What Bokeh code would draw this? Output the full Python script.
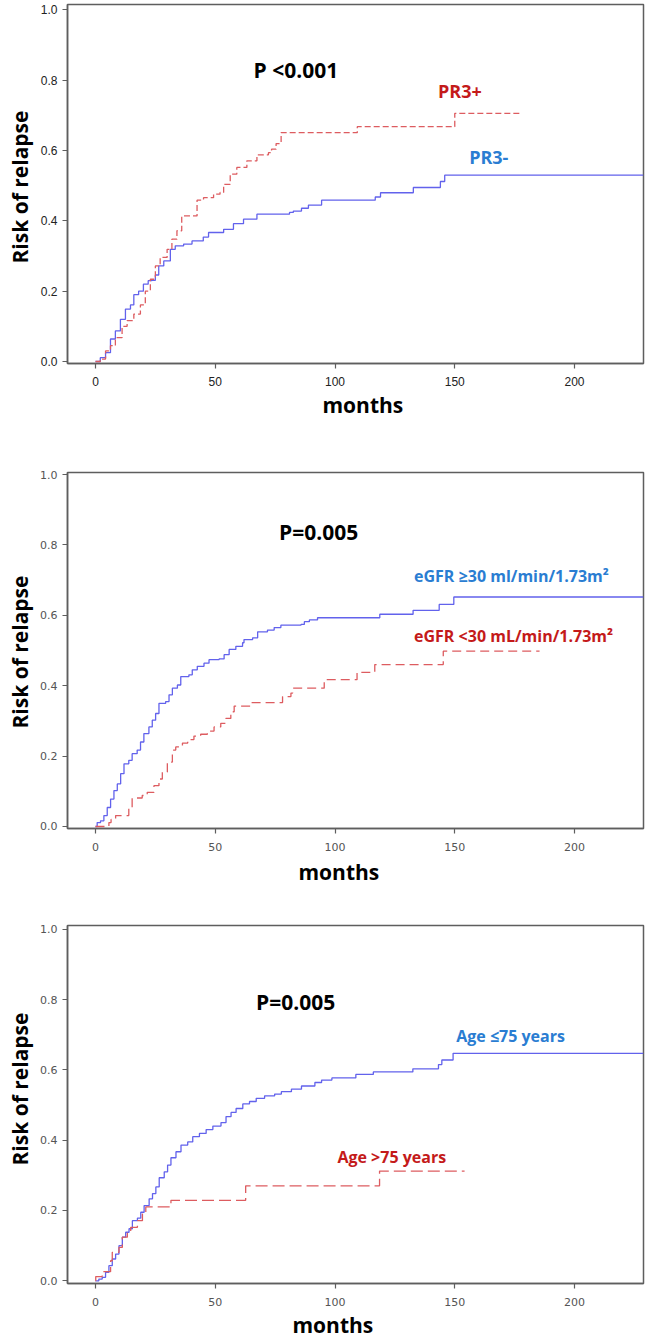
from bokeh.plotting import figure
from bokeh.layouts import column
from bokeh.models import Label, FixedTicker, Range1d, NumeralTickFormatter, Title
from bokeh.embed import file_html
from bokeh.resources import INLINE

# ---------------- data (months, cumulative risk of relapse) ----------------
x_ticks = [0, 50, 100, 150, 200]
y_ticks = [0.0, 0.2, 0.4, 0.6, 0.8, 1.0]

# Panel 1: PR3
pr3neg_t = [0, 2, 4.2, 6.25, 8.3, 10.4, 12.5, 14.6, 16, 18, 20, 22, 23.6, 25, 26.4, 28.5, 31.25,
            33.3, 36.8, 40.3, 45, 47.2, 53.5, 57.6, 61.8, 67.4, 81, 82.6, 86, 88.9, 94.4, 116.8,
            119, 132.7, 144, 145.8, 228.8]
pr3neg_y = [0, 0.011, 0.025, 0.064, 0.087, 0.12, 0.149, 0.161, 0.19, 0.2, 0.22, 0.23, 0.231,
            0.246, 0.272, 0.286, 0.319, 0.329, 0.334, 0.343, 0.354, 0.367, 0.376, 0.392, 0.405,
            0.419, 0.424, 0.428, 0.436, 0.445, 0.459, 0.468, 0.48, 0.495, 0.512, 0.53, 0.53]
pr3pos_t = [0, 2, 4.2, 6.25, 8.3, 11.1, 13.2, 16, 18.75, 20.8, 22.9, 25, 27, 29.9, 31.9, 34, 36,
            42.4, 45.1, 49.3, 52, 53.5, 56.25, 59, 63.2, 67.4, 72.2, 73.5, 75.4, 77.5, 109.3, 150,
            177.3]
pr3pos_y = [0, 0.007, 0.03, 0.045, 0.068, 0.1, 0.116, 0.135, 0.161, 0.2, 0.234, 0.272, 0.296,
            0.319, 0.348, 0.372, 0.414, 0.459, 0.466, 0.476, 0.481, 0.504, 0.533, 0.552, 0.571,
            0.588, 0.594, 0.604, 0.62, 0.651, 0.668, 0.706, 0.706]

# Panel 2: eGFR
egfr_hi_t = [0, 0.7, 2.1, 3.5, 4.9, 6.3, 7.7, 9.1, 10.5, 11.9, 13.9, 15.3, 17.4, 18.8, 20.2, 22.3,
             23.7, 25.1, 26.5, 29.3, 30.7, 32.1, 34.2, 35.6, 39, 40.4, 42.5, 45.3, 47.4, 51.6,
             53.7, 55.8, 58.6, 61.4, 62, 65.6, 67.7, 71.8, 74.6, 77.4, 85.8, 87.2, 89.3, 92.7,
             118.7, 132.6, 143.5, 149.6, 228.8]
egfr_hi_y = [0, 0.011, 0.016, 0.031, 0.054, 0.078, 0.102, 0.121, 0.15, 0.178, 0.188, 0.207,
             0.217, 0.24, 0.264, 0.283, 0.302, 0.321, 0.35, 0.355, 0.374, 0.393, 0.402, 0.426,
             0.431, 0.445, 0.455, 0.464, 0.474, 0.476, 0.488, 0.503, 0.512, 0.522, 0.531, 0.536,
             0.553, 0.558, 0.565, 0.572, 0.574, 0.582, 0.587, 0.593, 0.603, 0.614, 0.631, 0.652,
             0.652]
egfr_lo_t = [0, 5.6, 6.5, 8.4, 13.9, 15.3, 19.5, 21.6, 24.4, 26.5, 27.9, 30, 32.1, 33.5, 36.3,
             38.5, 41.1, 43.9, 46.7, 49.5, 52.3, 54.4, 56.5, 57.9, 64.9, 78.1, 81.6, 82.3, 95.5,
             109.2, 116.6, 145.2, 185.4]
egfr_lo_y = [0, 0.011, 0.02, 0.031, 0.054, 0.081, 0.088, 0.097, 0.116, 0.135, 0.155, 0.183,
             0.217, 0.226, 0.237, 0.247, 0.257, 0.262, 0.271, 0.283, 0.293, 0.307, 0.326, 0.342,
             0.352, 0.369, 0.379, 0.393, 0.417, 0.438, 0.46, 0.498, 0.498]

# Panel 3: Age
age_lo_t = [0, 1.4, 2.8, 4.2, 5.6, 7, 8.4, 9.8, 11.2, 12.6, 14, 15.4, 17.5, 18.9, 20.3, 22.4,
            23.8, 25.2, 26.6, 28.7, 30.1, 31.5, 33.6, 35.7, 38.5, 40.6, 43.4, 46.2, 49, 52.4,
            54.5, 56.6, 58.7, 61.5, 64.3, 67.1, 70.6, 74.8, 77.6, 81.8, 86, 91.6, 94.4, 98.7,
            108.7, 116, 132.5, 143.2, 144.6, 149.3, 228.8]
age_lo_y = [0, 0.005, 0.01, 0.024, 0.043, 0.062, 0.076, 0.1, 0.124, 0.138, 0.148, 0.171, 0.178,
            0.195, 0.214, 0.233, 0.248, 0.267, 0.293, 0.31, 0.329, 0.35, 0.367, 0.386, 0.395,
            0.41, 0.419, 0.43, 0.44, 0.45, 0.467, 0.479, 0.49, 0.503, 0.51, 0.519, 0.526, 0.531,
            0.538, 0.545, 0.554, 0.564, 0.571, 0.577, 0.587, 0.594, 0.603, 0.615, 0.628, 0.647,
            0.647]
age_hi_t = [0, 0.1, 2.8, 6.3, 7, 9.8, 11.2, 13.3, 14.7, 17.5, 19.6, 21, 31.5, 62.7, 118.6, 154.1]
age_hi_y = [0, 0.012, 0.026, 0.057, 0.081, 0.095, 0.124, 0.138, 0.152, 0.171, 0.19, 0.21,
            0.229, 0.27, 0.312, 0.312]

p_values = ["P <0.001", "P=0.005", "P=0.005"]
blue_labels = ["PR3-", "eGFR \u226530 ml/min/1.73m\u00b2", "Age \u226475 years"]
red_labels = ["PR3+", "eGFR <30 mL/min/1.73m\u00b2", "Age >75 years"]
x_title = "months"
y_title = "Risk of relapse"

# ---------------- styling ----------------
BLUE_LINE = "#6262ec"
RED_LINE = "#dd5c60"
BLUE_TXT = "#2a7dd2"
RED_TXT = "#c41a1a"
AXIS = "#5e5e5e"
BOLD_FONT = "Open Sans"


def make_panel(h, top, bottom, y0, y1, tick_font, tick_size, tick_color, x_standoff):
    p = figure(width=649, height=h, x_range=Range1d(-11.69, 228.8), y_range=Range1d(y0, y1),
               output_backend="svg", toolbar_location=None,
               min_border_left=67, min_border_right=6, min_border_top=top,
               min_border_bottom=bottom)
    p.grid.visible = False
    p.outline_line_color = AXIS
    p.outline_line_width = 1.5
    for ax in (p.xaxis[0], p.yaxis[0]):
        ax.axis_line_color = AXIS
        ax.axis_line_width = 1.5
        ax.major_tick_line_color = AXIS
        ax.major_tick_line_width = 1.2
        ax.major_tick_out = 5
        ax.major_tick_in = 0
        ax.minor_tick_line_color = None
        ax.major_label_text_font = tick_font
        ax.major_label_text_font_size = tick_size
        ax.major_label_text_color = tick_color
    p.xaxis.ticker = FixedTicker(ticks=x_ticks)
    p.yaxis.ticker = FixedTicker(ticks=y_ticks)
    p.yaxis.formatter = NumeralTickFormatter(format="0.0")
    p.xaxis.major_label_standoff = x_standoff
    p.yaxis.major_label_standoff = 5
    return p


def add_titles(p, y_offset, x_offset, x_standoff, y_standoff):
    p.add_layout(Title(text=x_title, align="left", offset=x_offset, standoff=x_standoff,
                       text_font=BOLD_FONT, text_font_style="bold",
                       text_font_size="21px", text_color="black"), "below")
    p.add_layout(Title(text=y_title, align="left", offset=y_offset, standoff=y_standoff,
                       text_font=BOLD_FONT, text_font_style="bold",
                       text_font_size="21px", text_color="black"), "left")


def add_label(p, x, y, text, color, size):
    p.add_layout(Label(x=x, y=y, text=text, text_align="left", text_baseline="middle",
                       text_font=BOLD_FONT, text_font_style="bold",
                       text_font_size=size, text_color=color))


# Panel 1 : frame 4..363
p1 = make_panel(430, 4, 67, -0.0057, 1.0156, "Liberation Sans", "12px", "#222222", 8)
p1.step(pr3neg_t, pr3neg_y, mode="after", line_color=BLUE_LINE, line_width=1.3)
p1.step(pr3pos_t, pr3pos_y, mode="after", line_color=RED_LINE, line_width=1.3,
        line_dash="6 3")
add_label(p1, 66, 0.83, p_values[0], "black", "21px")
add_label(p1, 143, 0.77, red_labels[0], RED_TXT, "18px")
add_label(p1, 156, 0.583, blue_labels[0], BLUE_TXT, "18px")
add_titles(p1, 100, 255, 1, 7)

# Panel 2 : frame 472..828
p2 = make_panel(460, 42, 62, -0.0057, 1.0057, "DejaVu Sans", "11px", "#555555", 9)
p2.step(egfr_hi_t, egfr_hi_y, mode="after", line_color=BLUE_LINE, line_width=1.3)
p2.step(egfr_lo_t, egfr_lo_y, mode="after", line_color=RED_LINE, line_width=1.3,
        line_dash="9 5")
add_label(p2, 76.6, 0.836, p_values[1], "black", "21px")
add_label(p2, 133, 0.711, blue_labels[1], BLUE_TXT, "16px")
add_label(p2, 133, 0.541, red_labels[1], RED_TXT, "16px")
add_titles(p2, 100, 231, 4, 7)

# Panel 3 : frame 925..1283
p3 = make_panel(450, 35, 57, -0.0077, 1.0105, "DejaVu Sans", "11px", "#555555", 9)
p3.step(age_lo_t, age_lo_y, mode="after", line_color=BLUE_LINE, line_width=1.3)
p3.step(age_hi_t, age_hi_y, mode="after", line_color=RED_LINE, line_width=1.3,
        line_dash="12 5")
add_label(p3, 67, 0.792, p_values[2], "black", "21px")
add_label(p3, 150.6, 0.695, blue_labels[2], BLUE_TXT, "16px")
add_label(p3, 101, 0.353, red_labels[2], RED_TXT, "16px")
add_titles(p3, 118, 225, 1, 7)

layout = column(p1, p2, p3, spacing=0)
open("out.html", "w").write(file_html(layout, INLINE))
